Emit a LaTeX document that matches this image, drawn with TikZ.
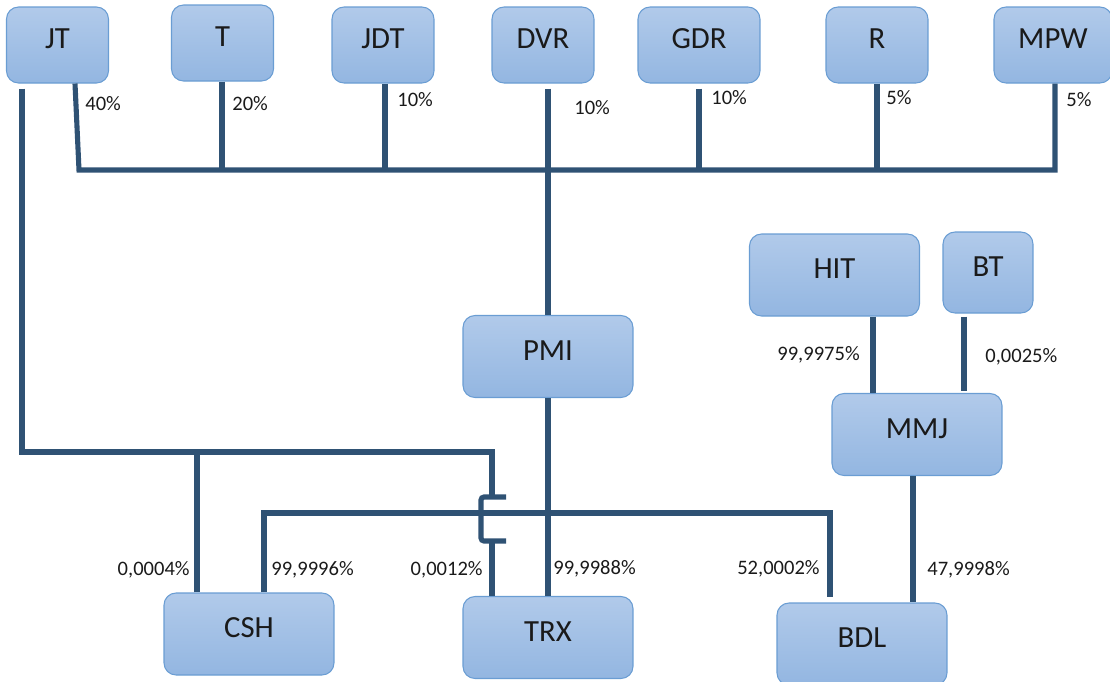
\documentclass[tikz,border=0pt]{standalone}
\usepackage{fontspec}
\setmainfont{Carlito}
\definecolor{Wire}{HTML}{2F5274}
\definecolor{BoxTop}{HTML}{B1CAEA}
\definecolor{BoxBot}{HTML}{93B6E1}
\definecolor{BoxEdge}{HTML}{6A9DD3}
\definecolor{Ink}{HTML}{1A1A1A}

\begin{document}
\begin{tikzpicture}[x=0.02cm,y=-0.02cm,
  firm/.style={draw=BoxEdge,line width=0.6pt,rounded corners=0.24cm,top color=BoxTop,bottom color=BoxBot,minimum width=3.4cm,minimum height=1.64cm,inner sep=0pt,text height=0.65em,text depth=0.2em,font=\fontsize{17.5}{20}\selectfont,text=Ink},
  small/.style={firm,minimum width=2.04cm,minimum height=1.52cm},
  wire/.style={draw=Wire,line width=2.9pt},
  pct/.style={inner sep=0pt,font=\fontsize{11.7}{14}\selectfont,text=Ink}]
\useasboundingbox (0,0) rectangle (1110,681);
% shareholders
\node[small] (JT) at (57.5,45) {JT};
\node[small] (T) at (222.5,43) {T};
\node[small] (JDT) at (383,45) {JDT};
\node[small] (DVR) at (543,45) {DVR};
\node[small,minimum width=2.44cm] (GDR) at (699,45) {GDR};
\node[small] (R) at (877,45) {R};
\node[small,minimum width=2.36cm] (MPW) at (1053,45) {MPW};
% companies
\node[firm] (HIT) at (834.5,275) {HIT};
\node[firm,minimum width=1.8cm,minimum height=1.62cm] (BT) at (988,272.5) {BT};
\node[firm] (PMI) at (548,356.5) {PMI};
\node[firm] (MMJ) at (917,434.5) {MMJ};
\node[firm] (CSH) at (249,634) {CSH};
\node[firm] (TRX) at (548,637.5) {TRX};
\node[firm] (BDL) at (862,644) {BDL};
% top bar
\draw[wire] (JT.south -| 75,0) -- (79,170) -- (1055,170) -- (MPW.south -| 1055,0);
\foreach \n/\x in {T/222,JDT/385,R/877} \draw[wire] (\n.south -| \x,0) -- (\x,170);
\draw[wire] (GDR.south -| 699,0) ++(0,5) -- (699,170);
\draw[wire] (DVR.south -| PMI.north) ++(0,5) -- (PMI.north);
% JT direct holdings, hopping over the CSH line
\coordinate (hop) at (492,497);
\draw[wire] (JT.south -| 22,0) ++(0,5) -- (22,452) -- (492,452) -- (hop);
\draw[wire,rounded corners=0.06cm] (506,497) -- (481,497) -- (481,541) -- (506,541);
\draw[wire] (492,541) -- (TRX.north -| 492,0);
\draw[wire] (CSH.north -| 197,0) -- (197,452);
\draw[wire,shorten >=0.1cm] (CSH.north -| 264,0) -- (264,513) -- (830,513) -- (BDL.north -| 830,0);
\draw[wire] (PMI.south) -- (TRX.north);
\draw[wire] (HIT.south -| 873,0) -- (MMJ.north -| 873,0);
\draw[wire,shorten >=0.04cm] (BT.south -| 964,0) ++(0,3) -- (MMJ.north -| 964,0);
\draw[wire] (MMJ.south -| 913,0) -- (BDL.north -| 913,0);
% percentages
\node[pct,anchor=west] (pJT) at (85,104) {40\%};
\node[pct,anchor=west] (pT) at (232,104) {20\%};
\node[pct,anchor=west] (pJDT) at (397,100) {10\%};
\node[pct,anchor=west] (pDVR) at (574,108) {10\%};
\node[pct,anchor=west] (pGDR) at (711,98) {10\%};
\node[pct,anchor=west] (pR) at (886,98) {5\%};
\node[pct,anchor=west] (pMPW) at (1066,100) {5\%};
\node[pct,anchor=west] (pHIT) at (777,355) {99,9975\%};
\node[pct,anchor=west] (pBT) at (985,357) {0,0025\%};
\node[pct,anchor=east] (pJTC) at (190,570) {0,0004\%};
\node[pct,anchor=west] (pCSH) at (271,570) {99,9996\%};
\node[pct,anchor=east] (pJTT) at (483,570) {0,0012\%};
\node[pct,anchor=west] (pPMI) at (553,569) {99,9988\%};
\node[pct,anchor=east] (pCB) at (820,569) {52,0002\%};
\node[pct,anchor=west] (pMMJ) at (927,570) {47,9998\%};
\end{tikzpicture}
\end{document}
